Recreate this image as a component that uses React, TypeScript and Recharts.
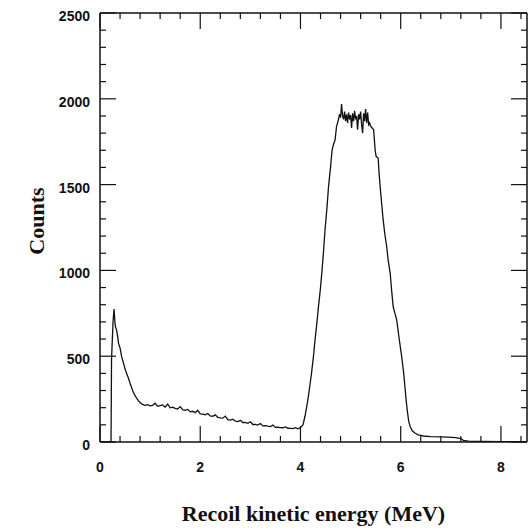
import React from 'react';
import { LineChart, Line, XAxis, YAxis } from 'recharts';

const energy = [
  0, 0.22, 0.23, 0.26, 0.28, 0.30, 0.31, 0.33, 0.35, 0.37, 0.40, 0.43, 0.47, 0.50, 0.53, 0.57, 0.60, 0.63, 0.66, 0.70,
  0.73, 0.77, 0.80, 0.83, 0.87, 0.90, 0.95, 1.00, 1.05, 1.10, 1.15, 1.20, 1.25, 1.30, 1.35, 1.40, 1.45, 1.50, 1.55, 1.60,
  1.65, 1.70, 1.75, 1.80, 1.85, 1.90, 1.95, 2.00, 2.05, 2.10, 2.15, 2.20, 2.25, 2.30, 2.35, 2.40, 2.45, 2.50, 2.55, 2.60,
  2.65, 2.70, 2.75, 2.80, 2.85, 2.90, 2.95, 3.00, 3.05, 3.10, 3.15, 3.20, 3.25, 3.30, 3.35, 3.40, 3.45, 3.50, 3.55, 3.60,
  3.65, 3.70, 3.75, 3.80, 3.85, 3.90, 3.95, 4.00, 4.05, 4.09, 4.13, 4.16, 4.19, 4.22, 4.26, 4.29, 4.33, 4.36, 4.40, 4.43,
  4.46, 4.49, 4.53, 4.56, 4.60, 4.63, 4.66, 4.69, 4.72, 4.75, 4.78, 4.80, 4.82, 4.84, 4.86, 4.88, 4.90, 4.92, 4.94, 4.96,
  4.98, 5.00, 5.02, 5.04, 5.06, 5.08, 5.10, 5.12, 5.14, 5.16, 5.18, 5.20, 5.22, 5.24, 5.26, 5.28, 5.30, 5.32, 5.34, 5.36,
  5.38, 5.40, 5.43, 5.46, 5.49, 5.51, 5.55, 5.57, 5.59, 5.62, 5.65, 5.68, 5.72, 5.75, 5.79, 5.82, 5.85, 5.89, 5.92, 5.97,
  6.02, 6.06, 6.09, 6.11, 6.13, 6.16, 6.19, 6.23, 6.29, 6.35, 6.45, 6.60, 6.80, 6.95, 7.10, 7.20, 7.25, 7.35, 7.60, 8.00,
  8.52,
];

const counts = [
  0, 0, 480, 700, 775, 690, 670, 655, 620, 575, 548, 500, 458, 425, 400, 370, 342, 318, 293, 270,
  255, 240, 230, 222, 216, 214, 218, 211, 214, 226, 208, 212, 216, 203, 221, 199, 203, 196, 192, 206,
  188, 184, 190, 176, 179, 171, 185, 164, 163, 159, 166, 152, 150, 158, 144, 141, 139, 151, 130, 128,
  133, 121, 119, 126, 113, 114, 109, 118, 102, 103, 99, 108, 94, 95, 92, 90, 99, 85, 86, 84,
  83, 88, 80, 79, 78, 83, 77, 84, 100, 150, 215, 270, 335, 400, 500, 594, 700, 790, 900, 1000,
  1110, 1235, 1370, 1488, 1600, 1700, 1735, 1760, 1840, 1870, 1910, 1890, 1970, 1900, 1880, 1925, 1870, 1910, 1860, 1920,
  1880, 1905, 1830, 1915, 1870, 1930, 1880, 1900, 1820, 1910, 1880, 1925, 1850, 1800, 1915, 1870, 1940, 1860, 1920, 1850,
  1860, 1840, 1830, 1820, 1700, 1663, 1655, 1560, 1488, 1390, 1294, 1220, 1138, 1060, 983, 880, 788, 745, 711, 600,
  497, 400, 303, 240, 186, 120, 89, 65, 51, 42, 35, 31, 30, 28, 25, 20, 10, 5, 3, 2,
  1,
];

const xTicks = [0, 0.4, 0.8, 1.2, 1.6, 2, 2.4, 2.8, 3.2, 3.6, 4, 4.4, 4.8, 5.2, 5.6, 6, 6.4, 6.8, 7.2, 7.6, 8, 8.4];
const xLabels = [0, 2, 4, 6, 8];
const yTicks = [0, 100, 200, 300, 400, 500, 600, 700, 800, 900, 1000, 1100, 1200, 1300, 1400, 1500, 1600, 1700, 1800, 1900, 2000, 2100, 2200, 2300, 2400, 2500];
const yLabels = [0, 500, 1000, 1500, 2000, 2500];

const data = energy.map((e, i) => ({ e, c: counts[i] }));

const INK = '#111';
const MAJOR = 16;
const MINOR = 6;
const tickFont = { fontFamily: '"Liberation Sans", Arial, sans-serif', fontWeight: 700, fontSize: 14 };
const titleFont = { fontFamily: '"Liberation Serif", "Times New Roman", serif', fontWeight: 700, fontSize: 22 };

const isLabelX = (v: number) => xLabels.some((l) => Math.abs(l - v) < 1e-6);
const isLabelY = (v: number) => yLabels.some((l) => Math.abs(l - v) < 1e-6);

const BottomTick = (props: any) => {
  const { x, y, payload } = props;
  const major = isLabelX(payload.value);
  return (
    <g>
      <line x1={x} y1={y} x2={x} y2={y - (major ? MAJOR : MINOR)} stroke={INK} strokeWidth={1.2} />
      {major && (
        <text x={x} y={y + 25} textAnchor="middle" dominantBaseline="central" fill={INK} style={tickFont}>
          {payload.value}
        </text>
      )}
    </g>
  );
};

const TopTick = (props: any) => {
  const { x, y, payload } = props;
  const major = isLabelX(payload.value);
  return <line x1={x} y1={y} x2={x} y2={y + (major ? MAJOR : MINOR)} stroke={INK} strokeWidth={1.2} />;
};

const LeftTick = (props: any) => {
  const { x, y, payload } = props;
  const major = isLabelY(payload.value);
  return (
    <g>
      <line x1={x} y1={y} x2={x + (major ? MAJOR : MINOR)} y2={y} stroke={INK} strokeWidth={1.2} />
      {major && (
        <text x={x - 10} y={y + 3} textAnchor="end" dominantBaseline="central" fill={INK} style={tickFont}>
          {payload.value}
        </text>
      )}
    </g>
  );
};

const RightTick = (props: any) => {
  const { x, y, payload } = props;
  const major = isLabelY(payload.value);
  return <line x1={x} y1={y} x2={x - (major ? MAJOR : MINOR)} y2={y} stroke={INK} strokeWidth={1.2} />;
};

const XTitle = (props: any) => {
  const vb = props.viewBox;
  return (
    <text x={vb.x + vb.width / 2} y={vb.y + 79} textAnchor="middle" fill={INK} style={titleFont}>
      Recoil kinetic energy (MeV)
    </text>
  );
};

const YTitle = (props: any) => {
  const vb = props.viewBox;
  const cx = vb.x + 36;
  const cy = vb.y + 208;
  return (
    <text x={cx} y={cy} transform={`rotate(-90 ${cx} ${cy})`} textAnchor="middle" dominantBaseline="central" fill={INK} style={titleFont}>
      Counts
    </text>
  );
};

export default function App() {
  return (
    <div style={{ position: 'absolute', left: 0, top: 0, width: 528, height: 530, background: '#fff' }}>
      <LineChart width={528} height={530} data={data} margin={{ top: 12, right: 0, left: 0, bottom: 0 }}>
        <XAxis
          xAxisId="bottom"
          dataKey="e"
          type="number"
          domain={[0, 8.52]}
          allowDataOverflow
          ticks={xTicks}
          interval={0}
          tickSize={0}
          tickMargin={0}
          tickLine={false}
          tick={<BottomTick />}
          axisLine={{ stroke: INK, strokeWidth: 1.5 }}
          height={88}
          label={<XTitle />}
        />
        <XAxis
          xAxisId="top"
          orientation="top"
          dataKey="e"
          type="number"
          domain={[0, 8.52]}
          allowDataOverflow
          ticks={xTicks}
          interval={0}
          tickSize={0}
          tickMargin={0}
          tickLine={false}
          tick={<TopTick />}
          axisLine={{ stroke: INK, strokeWidth: 1.5 }}
          height={1}
        />
        <YAxis
          yAxisId="left"
          type="number"
          domain={[0, 2500]}
          allowDataOverflow
          ticks={yTicks}
          interval={0}
          tickSize={0}
          tickMargin={0}
          tickLine={false}
          tick={<LeftTick />}
          axisLine={{ stroke: INK, strokeWidth: 1.5 }}
          width={100}
          label={<YTitle />}
        />
        <YAxis
          yAxisId="right"
          orientation="right"
          type="number"
          domain={[0, 2500]}
          allowDataOverflow
          ticks={yTicks}
          interval={0}
          tickSize={0}
          tickMargin={0}
          tickLine={false}
          tick={<RightTick />}
          axisLine={{ stroke: INK, strokeWidth: 1.5 }}
          width={1}
        />
        <Line
          xAxisId="bottom"
          yAxisId="left"
          dataKey="c"
          type="linear"
          stroke={INK}
          strokeWidth={1.3}
          dot={false}
          activeDot={false}
          isAnimationActive={false}
        />
      </LineChart>
    </div>
  );
}
